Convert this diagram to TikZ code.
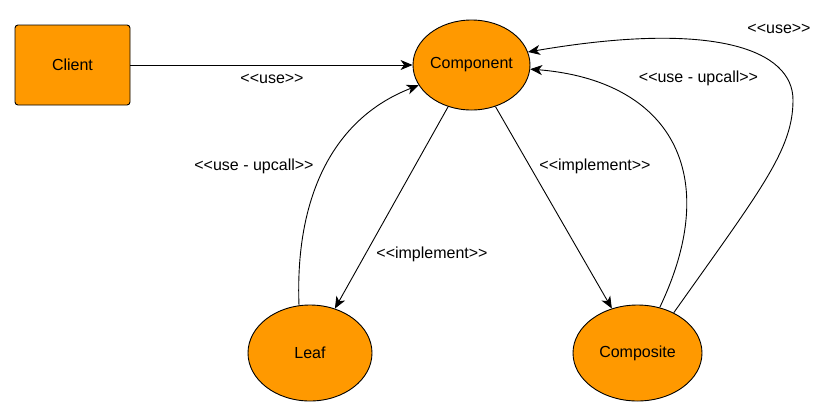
\documentclass[tikz,border=0pt]{standalone}
\usepackage{fontspec}
\setmainfont{Liberation Sans}
\usetikzlibrary{arrows.meta,shapes.geometric}
\definecolor{orng}{RGB}{255,153,0}
\begin{document}
\begin{tikzpicture}[x=1pt,y=-1pt,
  every node/.style={font=\fontsize{16}{19}\selectfont},
  box/.style={draw=black,fill=orng,line width=0.9pt,rounded corners=3pt,minimum width=115pt,minimum height=80pt,inner sep=0pt},
  ell/.style={draw=black,fill=orng,line width=0.9pt,ellipse,inner sep=0pt},
  arr/.style={draw=black,line width=0.9pt,-{Stealth[length=12pt,width=10pt,inset=3.5pt]}},
  lbl/.style={inner sep=0pt}]
\useasboundingbox (0,0) rectangle (827,416);
\node[box] (client) at (72.5,65) {Client};
\node[ell,minimum width=115pt,minimum height=90pt] (comp) at (471.5,65) {Component};
\node[ell,minimum width=124pt,minimum height=96pt] (leaf) at (310,353) {Leaf};
\node[ell,minimum width=129pt,minimum height=96pt] (composite) at (637.5,353) {Composite};
\coordinate (r) at (793,100);
% client -> component
\draw[arr] (client) -- (comp);
\node[lbl] (l1) at (272,79) {<{}<use>{}>};
% leaf -> component upcall
\draw[arr] (leaf.103) .. controls +(-4,-105) and +(-88,34) .. (comp.201);
\node[lbl] (l2) at (254,166) {<{}<use - upcall>{}>};
% component -> leaf
\draw[arr] (comp) -- (leaf);
\node[lbl] (l3) at (432,254) {<{}<implement>{}>};
% component -> composite
\draw[arr] (comp) -- (composite);
\node[lbl] (l4) at (595,166) {<{}<implement>{}>};
% composite -> component upcall
\draw[arr] (composite.64) .. controls +(65,-136) and +(138,11) .. (comp.-4);
\node[lbl] (l5) at (698.5,78) {<{}<use - upcall>{}>};
% composite -> component use
\draw[arr] (composite.48) .. controls +(87,-123) and +(0,50) .. (r)
  .. controls +(0,-50) and +(187,-32) .. (comp.13);
\node[lbl] (l6) at (779,29) {<{}<use>{}>};
\end{tikzpicture}
\end{document}
